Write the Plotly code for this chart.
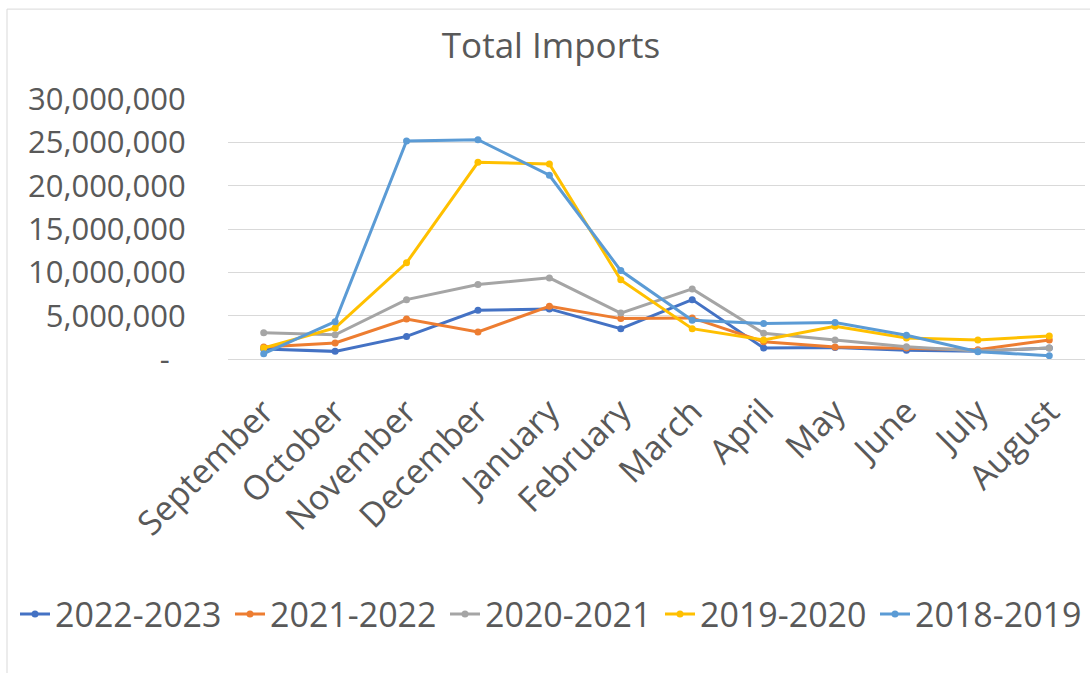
import plotly.graph_objects as go

months = ["September", "October", "November", "December", "January", "February",
          "March", "April", "May", "June", "July", "August"]

s_2022_2023 = [1160000, 880000, 2610000, 5620000, 5780000, 3500000,
               6850000, 1270000, 1340000, 1000000, 880000, 1270000]
s_2021_2022 = [1390000, 1850000, 4620000, 3120000, 6080000, 4660000,
               4740000, 2000000, 1390000, 1270000, 1070000, 2200000]
s_2020_2021 = [3040000, 2800000, 6850000, 8590000, 9360000, 5300000,
               8090000, 2960000, 2200000, 1420000, 920000, 1270000]
s_2019_2020 = [1270000, 3580000, 11100000, 22700000, 22500000, 9130000,
               3500000, 2200000, 3770000, 2430000, 2200000, 2660000]
s_2018_2019 = [610000, 4310000, 25150000, 25300000, 21200000, 10200000,
               4460000, 4100000, 4200000, 2730000, 840000, 380000]

series_names = ["2022-2023", "2021-2022", "2020-2021", "2019-2020", "2018-2019"]
series_values = [s_2022_2023, s_2021_2022, s_2020_2021, s_2019_2020, s_2018_2019]
series_colors = ["#4472C4", "#ED7D31", "#A5A5A5", "#FFC000", "#5B9BD5"]

y_tickvals = [0, 5000000, 10000000, 15000000, 20000000, 25000000, 30000000]
y_ticktext = ["-\u00a0\u00a0", "5,000,000", "10,000,000", "15,000,000",
              "20,000,000", "25,000,000", "30,000,000"]

FONT = "Open Sans"
GREY = "#595959"

fig = go.Figure()
for name, vals, col in zip(series_names, series_values, series_colors):
    fig.add_trace(go.Scatter(
        x=months, y=vals, name=name, mode="lines+markers",
        line=dict(color=col, width=3),
        marker=dict(color=col, size=7, symbol="circle"),
    ))

# plot area: x 228..1085, y 99..359.3
L, R, T, B = 228, 1090 - 1085, 99, 673 - 359.3
pw, ph = 1090 - L - R, 673 - T - B

def px_x(p):
    return (p - L) / pw

def px_y(p):
    return (673 - B - p) / ph

fig.update_layout(
    width=1090, height=673,
    margin=dict(l=L, r=R, t=T, b=B, pad=0),
    paper_bgcolor="white", plot_bgcolor="white",
    font=dict(family=FONT, color=GREY),
    title=dict(text="Total Imports", x=551 / 1090, xanchor="center",
               y=1 - 46 / 673, yanchor="middle",
               font=dict(family=FONT, size=35, color=GREY)),
    xaxis=dict(type="category", range=[-0.5, 11.5], showgrid=False,
               showline=True, linecolor="#D9D9D9", linewidth=1,
               tickangle=-45, ticks="outside", ticklen=18,
               tickcolor="rgba(0,0,0,0)",
               tickfont=dict(family=FONT, size=34, color=GREY)),
    yaxis=dict(range=[0, 30000000], tickvals=y_tickvals, ticktext=y_ticktext,
               showgrid=True, gridcolor="#D9D9D9", gridwidth=1,
               zeroline=False, showline=False,
               ticks="outside", ticklen=35, tickcolor="rgba(0,0,0,0)",
               tickfont=dict(family=FONT, size=31, color=GREY)),
    legend=dict(orientation="h", x=px_x(28), xanchor="left",
                y=px_y(615), yanchor="middle",
                font=dict(family=FONT, size=34, color=GREY),
                itemwidth=30, entrywidth=170, entrywidthmode="pixels",
                bgcolor="rgba(0,0,0,0)", tracegroupgap=0),
    showlegend=True,
    shapes=[dict(type="rect", xref="paper", yref="paper",
                 x0=px_x(7), x1=px_x(1100), y0=px_y(690), y1=px_y(9),
                 line=dict(color="#D9D9D9", width=1), fillcolor="rgba(0,0,0,0)",
                 layer="below")],
)

fig.write_html("out.html", config={"displayModeBar": False},
               post_script="document.body.style.margin='0';")
